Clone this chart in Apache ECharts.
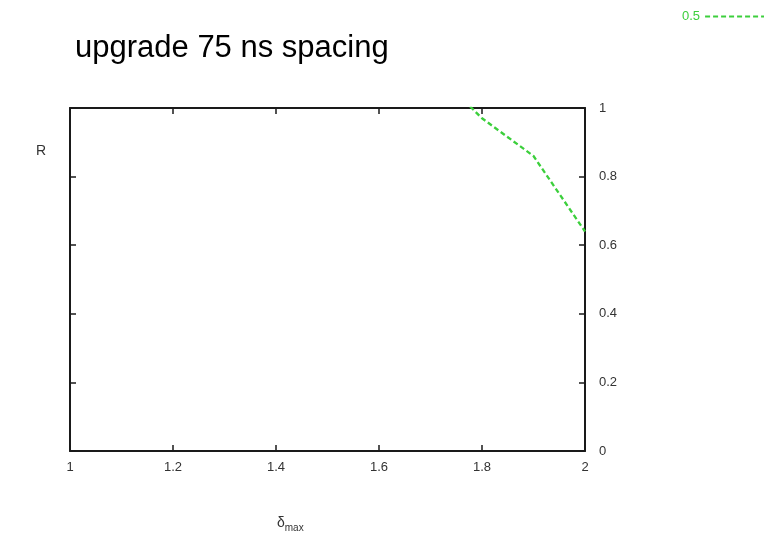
<!DOCTYPE html>
<html>
<head>
<meta charset="utf-8">
<script src="https://cdn.jsdelivr.net/npm/echarts@6/dist/echarts.min.js"></script>
<style>html,body{margin:0;padding:0;background:#fff;}#c{width:764px;height:552px;}</style>
</head>
<body>
<div id="c"></div>
<script>
// Data
const seriesName = "0.5";
const xValues = [1.7, 1.8, 1.9, 2.0];
const yValues = [1.12, 0.97, 0.86, 0.64];
const xTicks = [1, 1.2, 1.4, 1.6, 1.8, 2];
const yTicks = [0, 0.2, 0.4, 0.6, 0.8, 1];
const titleText = "upgrade 75 ns spacing";
const yName = "R";

const chart = echarts.init(document.getElementById('c'), null, {renderer: 'canvas'});
const font = "Liberation Sans, Arial, sans-serif";
const green = '#3ccf3c';
const axisLineStyle = {color: '#1a1a1a', width: 2};
const tickStyle = {show: true, inside: true, length: 6, lineStyle: {color: '#1a1a1a', width: 1.5}};

chart.setOption({
  animation: false,
  backgroundColor: '#fff',
  title: [
    {text: titleText, left: 70, top: 28, textStyle: {fontFamily: font, fontSize: 31, fontWeight: 'normal', color: '#000'}},
    {text: yName, left: 31, top: 139, textStyle: {fontFamily: font, fontSize: 14, fontWeight: 'normal', color: '#333'}},
    {text: '{d|δ}{s|max}', left: 272, top: 508, textStyle: {rich: {
      d: {fontFamily: font, fontSize: 14, fontWeight: 'normal', color: '#333'},
      s: {fontFamily: font, fontSize: 10, fontWeight: 'normal', color: '#333', padding: [10, 0, 0, 0]}
    }}}
  ],
  legend: {
    data: [seriesName], left: 677, top: 5, align: 'right',
    itemWidth: 62, itemHeight: 10,
    itemStyle: {color: 'transparent', borderWidth: 0},
    textStyle: {fontFamily: font, fontSize: 13, color: green}
  },
  grid: {left: 70, right: 179, top: 108, bottom: 101},
  xAxis: [
    {type: 'value', min: xTicks[0], max: xTicks[xTicks.length - 1], interval: 0.2, position: 'bottom',
     axisLine: {show: true, onZero: false, lineStyle: axisLineStyle}, axisTick: tickStyle, splitLine: {show: false},
     axisLabel: {margin: 10, fontFamily: font, fontSize: 13, color: '#333'}},
    {type: 'value', min: xTicks[0], max: xTicks[xTicks.length - 1], interval: 0.2, position: 'top',
     axisLine: {show: true, onZero: false, lineStyle: axisLineStyle}, axisTick: tickStyle, splitLine: {show: false},
     axisLabel: {show: false}}
  ],
  yAxis: [
    {type: 'value', min: yTicks[0], max: yTicks[yTicks.length - 1], interval: 0.2, position: 'right',
     axisLine: {show: true, onZero: false, lineStyle: axisLineStyle}, axisTick: tickStyle, splitLine: {show: false},
     axisLabel: {margin: 14, fontFamily: font, fontSize: 13, color: '#333'}},
    {type: 'value', min: yTicks[0], max: yTicks[yTicks.length - 1], interval: 0.2, position: 'left',
     axisLine: {show: true, onZero: false, lineStyle: axisLineStyle}, axisTick: tickStyle, splitLine: {show: false},
     axisLabel: {show: false}}
  ],
  series: [{
    name: seriesName, type: 'line', xAxisIndex: 0, yAxisIndex: 0,
    data: xValues.map((x, i) => [x, yValues[i]]),
    showSymbol: false, symbol: 'none', clip: true,
    lineStyle: {color: green, width: 2.3, type: [5, 3]},
    itemStyle: {color: green}
  }]
});
</script>
</body>
</html>
